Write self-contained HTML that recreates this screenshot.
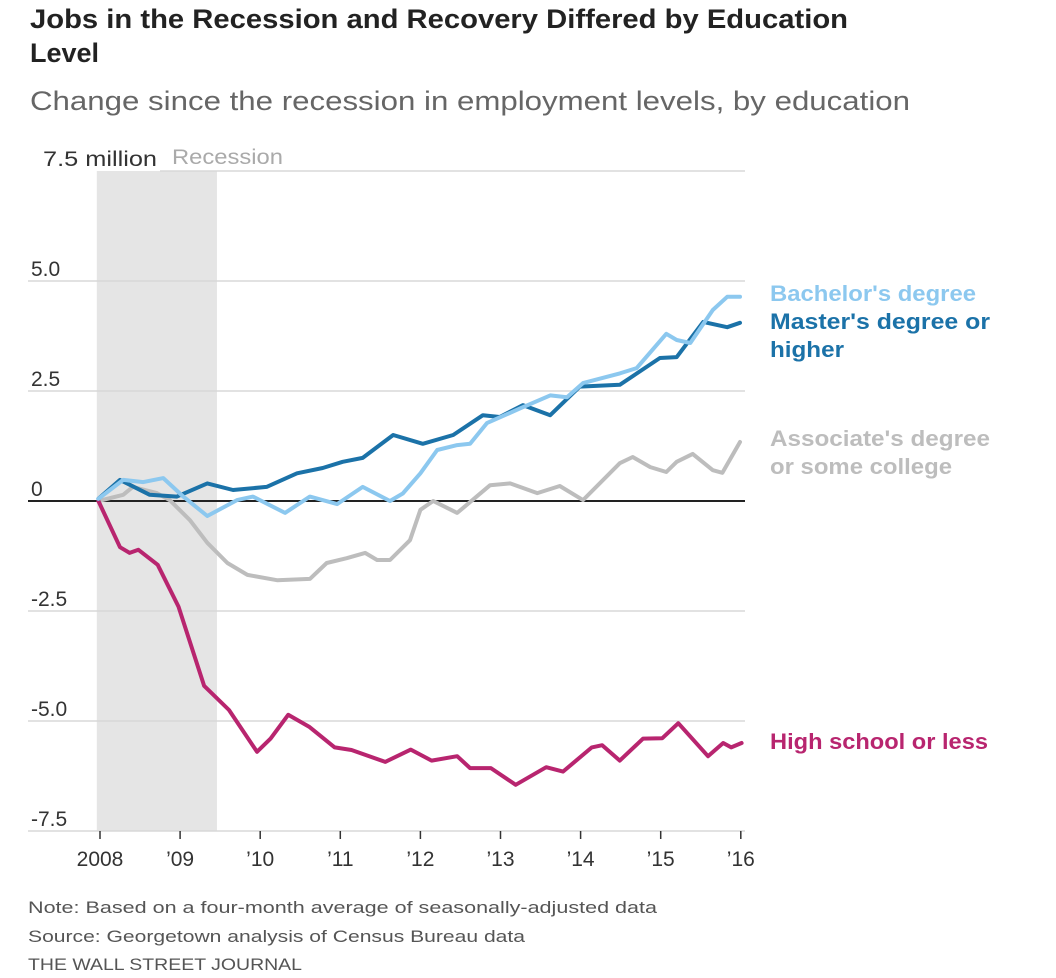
<!DOCTYPE html>
<html><head><meta charset="utf-8">
<style>
html,body{margin:0;padding:0;background:#fff;}
svg{display:block;font-family:"Liberation Sans",sans-serif;}
</style></head>
<body>
<svg id="chart" width="1056" height="978" viewBox="0 0 1056 978">
<text x="30" y="28" font-size="27" font-weight="bold" fill="#222" textLength="818" lengthAdjust="spacingAndGlyphs">Jobs in the Recession and Recovery Differed by Education</text>
<text x="30" y="62" font-size="27" font-weight="bold" fill="#222">Level</text>
<text x="30" y="110" font-size="27" fill="#666" textLength="880" lengthAdjust="spacingAndGlyphs">Change since the recession in employment levels, by education</text>
<g id="plot"></g>
<text x="28" y="913" font-size="17" fill="#555" textLength="629" lengthAdjust="spacingAndGlyphs">Note: Based on a four-month average of seasonally-adjusted data</text>
<text x="28" y="942" font-size="17" fill="#555" textLength="497" lengthAdjust="spacingAndGlyphs">Source: Georgetown analysis of Census Bureau data</text>
<text x="28" y="970" font-size="17" fill="#555" textLength="274" lengthAdjust="spacingAndGlyphs">THE WALL STREET JOURNAL</text>
</svg>
<script>
const yTicks=[7.5,5,2.5,0,-2.5,-5,-7.5];
const yTickLabels=["7.5 million","5.0","2.5","0","-2.5","-5.0","-7.5"];
const xTicks=[2008,2009,2010,2011,2012,2013,2014,2015,2016];
const xTickLabels=["2008","’09","’10","’11","’12","’13","’14","’15","’16"];
const recession=[2007.96,2009.46];

const hsYears=[2007.98,2008.25,2008.37,2008.48,2008.72,2008.98,2009.3,2009.61,2009.96,2010.13,2010.35,2010.61,2010.93,2011.14,2011.56,2011.88,2012.14,2012.46,2012.62,2012.88,2013.19,2013.57,2013.78,2014.14,2014.27,2014.49,2014.78,2015.02,2015.22,2015.59,2015.78,2015.88,2016.01];
const hsValues=[0,-1.05,-1.18,-1.11,-1.45,-2.4,-4.2,-4.75,-5.7,-5.4,-4.86,-5.13,-5.6,-5.66,-5.93,-5.65,-5.9,-5.8,-6.07,-6.07,-6.45,-6.05,-6.15,-5.6,-5.55,-5.9,-5.4,-5.39,-5.05,-5.8,-5.5,-5.6,-5.5];

const maYears=[2007.98,2008.25,2008.62,2008.96,2009.34,2009.66,2010.08,2010.46,2010.78,2011.03,2011.28,2011.66,2012.03,2012.41,2012.78,2012.99,2013.28,2013.62,2013.99,2014.49,2014.99,2015.2,2015.53,2015.83,2015.99];
const maValues=[0.05,0.48,0.14,0.1,0.4,0.25,0.32,0.63,0.75,0.89,0.98,1.5,1.3,1.5,1.95,1.91,2.18,1.95,2.6,2.64,3.25,3.27,4.07,3.95,4.05];

const baYears=[2007.98,2008.29,2008.54,2008.79,2009.04,2009.34,2009.71,2009.91,2010.31,2010.62,2010.96,2011.28,2011.62,2011.78,2012.0,2012.21,2012.46,2012.62,2012.83,2013.24,2013.62,2013.83,2014.03,2014.49,2014.7,2015.07,2015.2,2015.37,2015.65,2015.83,2015.99];
const baValues=[0.05,0.48,0.43,0.52,0.1,-0.34,0.02,0.1,-0.27,0.1,-0.07,0.32,0,0.17,0.63,1.16,1.27,1.3,1.77,2.1,2.4,2.36,2.68,2.9,3.02,3.8,3.66,3.59,4.34,4.64,4.64];

const asYears=[2007.98,2008.29,2008.41,2008.71,2008.87,2009.12,2009.34,2009.59,2009.84,2010.21,2010.62,2010.83,2011.08,2011.31,2011.46,2011.62,2011.87,2012.0,2012.16,2012.46,2012.87,2013.12,2013.46,2013.74,2014.03,2014.49,2014.65,2014.87,2015.07,2015.2,2015.4,2015.65,2015.77,2015.99];
const asValues=[0,0.14,0.32,0.18,0.02,-0.43,-0.95,-1.41,-1.68,-1.8,-1.77,-1.41,-1.3,-1.18,-1.34,-1.34,-0.89,-0.2,0,-0.27,0.36,0.4,0.18,0.34,0.02,0.86,1.0,0.77,0.66,0.89,1.07,0.7,0.64,1.34];

const X0=100,XPY=80.1,Y0=501,YPU=44;
const xs=y=>X0+(y-2008)*XPY;
const ys=v=>Y0-v*YPU;
const NS="http://www.w3.org/2000/svg";
const g=document.getElementById('plot');
function mk(tag,attrs){const e=document.createElementNS(NS,tag);for(const k in attrs)e.setAttribute(k,attrs[k]);g.appendChild(e);return e;}

const rect=mk('rect',{x:xs(recession[0]),y:ys(7.5),width:xs(recession[1])-xs(recession[0]),height:ys(-7.5)-ys(7.5),fill:'#e5e5e5'});


const rl=mk('text',{x:172,y:164,'font-size':21,fill:'#aaa',textLength:111,lengthAdjust:'spacingAndGlyphs'});rl.textContent='Recession';



yTicks.forEach((t,i)=>{
  const ln=mk('line',{x1:i==0?160:28,x2:745,y1:ys(t),y2:ys(t),stroke:t===0?'#222':'#d8d8d8','stroke-width':t===0?2:1.5});
  
  
  const attrs={x:i==0?43:31,y:ys(t)-5,'font-size':21,fill:'#333'};
  if(i==0){attrs.textLength=114;attrs.lengthAdjust='spacingAndGlyphs';}
  const tx=mk('text',attrs);
  tx.textContent=yTickLabels[i];
  
  
});
xTicks.forEach((t,i)=>{
  const tk=mk('line',{x1:xs(t),x2:xs(t),y1:ys(-7.5),y2:ys(-7.5)+8,stroke:'#333','stroke-width':1.5});
  
  
  const tx=mk('text',{x:xs(t),y:866,'font-size':21,fill:'#333','text-anchor':'middle'});
  tx.textContent=xTickLabels[i];
  
  
});
function line(yr,vals,color,name){
  const d=yr.map((y,i)=>(i?'L':'M')+xs(y).toFixed(1)+','+ys(vals[i]).toFixed(1)).join('');
  const p=mk('path',{d:d,fill:'none',stroke:color,'stroke-width':4,'stroke-linejoin':'round','stroke-linecap':'round'});
  
  
}
line(asYears,asValues,'#bdbdbd','associate-line');
line(hsYears,hsValues,'#b8256f','high-school-line');
line(maYears,maValues,'#1b72a8','masters-line');
line(baYears,baValues,'#8cc8ef','bachelors-line');
function lab(txt,x,y,c,name,w){const t=mk('text',{x:x,y:y,'font-size':22,'font-weight':'bold',fill:c,textLength:w,lengthAdjust:'spacingAndGlyphs'});t.textContent=txt;
  
  }
lab("Bachelor's degree",770,301,'#8cc8ef','bachelors-label',206);
lab("Master's degree or",770,329,'#1b72a8','masters-label',220);
lab("higher",770,357,'#1b72a8','masters-label-line2',74);
lab("Associate's degree",770,446,'#bdbdbd','associate-label',220);
lab("or some college",770,474,'#bdbdbd','associate-label-line2',182);
lab("High school or less",770,749,'#b8256f','high-school-label',218);
</script>
</body></html>
